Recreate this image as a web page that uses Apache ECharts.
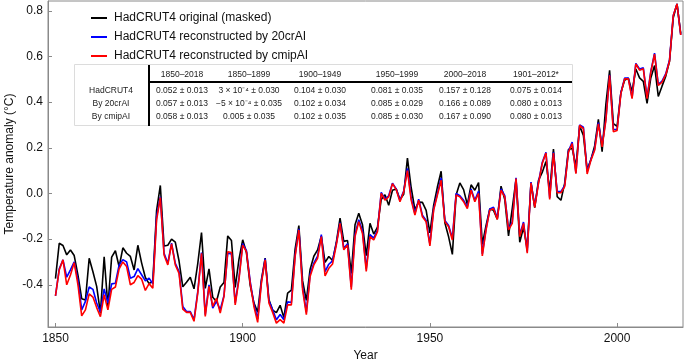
<!DOCTYPE html>
<html>
<head>
<meta charset="utf-8">
<script src="https://cdn.jsdelivr.net/npm/echarts/dist/echarts.min.js"></script>
<style>
  html, body { margin: 0; padding: 0; background: #fff; }
  #main { width: 685px; height: 360px; }
</style>
</head>
<body>
<div id="main"></div>
<script>
var startYear = 1850;

var hadcrut = [
  -0.373, -0.218, -0.228, -0.269, -0.248, -0.272, -0.358, -0.461, -0.467, -0.284,
  -0.343, -0.407, -0.524, -0.278, -0.494, -0.279, -0.251, -0.321, -0.238, -0.262,
  -0.276, -0.335, -0.227, -0.304, -0.368, -0.395, -0.384, -0.075, 0.035, -0.230,
  -0.227, -0.200, -0.213, -0.296, -0.409, -0.389, -0.367, -0.418, -0.307, -0.171,
  -0.416, -0.330, -0.455, -0.473, -0.410, -0.390, -0.186, -0.206, -0.412, -0.289,
  -0.203, -0.259, -0.402, -0.479, -0.520, -0.377, -0.283, -0.465, -0.511, -0.522,
  -0.490, -0.544, -0.437, -0.424, -0.244, -0.141, -0.383, -0.468, -0.333, -0.275,
  -0.247, -0.187, -0.302, -0.276, -0.294, -0.215, -0.108, -0.210, -0.206, -0.350,
  -0.137, -0.087, -0.137, -0.273, -0.131, -0.178, -0.147, -0.026, -0.006, -0.052,
  0.014, 0.020, -0.027, -0.004, 0.155, 0.025, -0.071, -0.038, -0.039, -0.074,
  -0.173, -0.052, 0.028, 0.097, -0.129, -0.190, -0.267, -0.007, 0.046, 0.017,
  -0.049, 0.038, 0.014, 0.048, -0.223, -0.140, -0.068, -0.074, -0.113, 0.032,
  -0.027, -0.186, -0.065, 0.062, -0.214, -0.149, -0.241, 0.047, -0.062, 0.057,
  0.092, 0.140, 0.011, 0.194, -0.014, -0.030, 0.045, 0.192, 0.198, 0.118,
  0.296, 0.254, 0.105, 0.148, 0.208, 0.325, 0.183, 0.390, 0.539, 0.306,
  0.294, 0.441, 0.496, 0.505, 0.447, 0.545, 0.506, 0.491, 0.395, 0.506,
  0.560, 0.425, 0.470, 0.514, 0.579, 0.770, 0.830, 0.700
];

var by20cr = [
  -0.449, -0.330, -0.291, -0.367, -0.335, -0.300, -0.380, -0.510, -0.473, -0.410,
  -0.420, -0.480, -0.520, -0.418, -0.480, -0.396, -0.393, -0.313, -0.290, -0.300,
  -0.371, -0.364, -0.329, -0.356, -0.383, -0.371, -0.396, -0.102, -0.015, -0.262,
  -0.306, -0.218, -0.306, -0.342, -0.495, -0.517, -0.517, -0.553, -0.430, -0.259,
  -0.531, -0.400, -0.502, -0.473, -0.509, -0.448, -0.262, -0.265, -0.480, -0.370,
  -0.220, -0.250, -0.385, -0.485, -0.550, -0.385, -0.285, -0.470, -0.510, -0.553,
  -0.530, -0.553, -0.475, -0.478, -0.270, -0.155, -0.410, -0.520, -0.355, -0.305,
  -0.275, -0.180, -0.342, -0.310, -0.295, -0.220, -0.128, -0.240, -0.220, -0.410,
  -0.180, -0.115, -0.165, -0.330, -0.180, -0.196, -0.160, 0.005, -0.025, -0.010,
  0.045, 0.020, -0.030, 0.010, 0.110, -0.020, -0.088, -0.025, -0.095, -0.118,
  -0.222, -0.068, 0.000, 0.068, -0.118, -0.140, -0.195, 0.000, -0.010, -0.030,
  -0.060, 0.020, -0.030, 0.010, -0.265, -0.155, -0.068, -0.060, -0.108, 0.020,
  -0.010, -0.155, -0.125, 0.068, -0.182, -0.125, -0.255, 0.050, -0.055, 0.048,
  0.135, 0.180, -0.020, 0.180, 0.008, 0.008, 0.035, 0.185, 0.225, 0.090,
  0.300, 0.290, 0.095, 0.150, 0.195, 0.310, 0.210, 0.325, 0.520, 0.280,
  0.280, 0.440, 0.505, 0.505, 0.420, 0.570, 0.545, 0.550, 0.420, 0.535,
  0.615, 0.478, 0.492, 0.525, 0.585, 0.780, 0.830, 0.695
];

var bycmip = [
  -0.449, -0.335, -0.291, -0.400, -0.357, -0.303, -0.400, -0.536, -0.510, -0.440,
  -0.454, -0.500, -0.540, -0.444, -0.510, -0.420, -0.410, -0.330, -0.300, -0.320,
  -0.400, -0.390, -0.360, -0.375, -0.425, -0.395, -0.415, -0.117, -0.018, -0.270,
  -0.313, -0.221, -0.313, -0.350, -0.507, -0.521, -0.521, -0.560, -0.437, -0.262,
  -0.539, -0.407, -0.495, -0.459, -0.524, -0.451, -0.255, -0.259, -0.488, -0.378,
  -0.226, -0.255, -0.393, -0.495, -0.565, -0.393, -0.291, -0.480, -0.521, -0.568,
  -0.553, -0.568, -0.488, -0.488, -0.277, -0.160, -0.422, -0.531, -0.364, -0.313,
  -0.284, -0.189, -0.361, -0.328, -0.309, -0.226, -0.131, -0.247, -0.226, -0.422,
  -0.189, -0.124, -0.175, -0.342, -0.189, -0.204, -0.167, 0.000, -0.029, -0.015,
  0.043, 0.017, -0.036, 0.007, 0.100, -0.029, -0.095, -0.030, -0.102, -0.124,
  -0.230, -0.073, -0.007, 0.058, -0.124, -0.146, -0.204, -0.007, -0.015, -0.036,
  -0.066, 0.014, -0.036, 0.000, -0.274, -0.160, -0.073, -0.066, -0.114, 0.014,
  -0.015, -0.160, -0.131, 0.065, -0.189, -0.131, -0.262, 0.046, -0.061, 0.043,
  0.131, 0.177, -0.026, 0.177, 0.003, 0.003, 0.030, 0.180, 0.218, 0.087,
  0.298, 0.284, 0.085, 0.145, 0.189, 0.305, 0.204, 0.320, 0.517, 0.270,
  0.276, 0.436, 0.502, 0.502, 0.415, 0.567, 0.540, 0.546, 0.415, 0.530,
  0.610, 0.473, 0.488, 0.520, 0.580, 0.780, 0.830, 0.694
];

var seriesNames = [
  'HadCRUT4 original (masked)',
  'HadCRUT4 reconstructed by 20crAI',
  'HadCRUT4 reconstructed by cmipAI'
];
var seriesColors = ['#000000', '#0000ff', '#ff0000'];

var yTicks = [-0.4, -0.2, 0.0, 0.2, 0.4, 0.6, 0.8];
var xTicks = [1850, 1900, 1950, 2000];
var yAxisTitle = 'Temperature anomaly (\u00b0C)';

// inset table text
var tableHeader = ['1850\u20132018', '1850\u20131899', '1900\u20131949', '1950\u20131999', '2000\u20132018', '1901\u20132012*'];
var tableRowLabels = ['HadCRUT4', 'By 20crAI', 'By cmipAI'];
var tableRows = [
  ['0.052 \u00b1 0.013', '3 \u00d7 10\u207b\u2074 \u00b1 0.030', '0.104 \u00b1 0.030', '0.081 \u00b1 0.035', '0.157 \u00b1 0.128', '0.075 \u00b1 0.014'],
  ['0.057 \u00b1 0.013', '\u22125 \u00d7 10\u207b\u2074 \u00b1 0.035', '0.102 \u00b1 0.034', '0.085 \u00b1 0.029', '0.166 \u00b1 0.089', '0.080 \u00b1 0.013'],
  ['0.058 \u00b1 0.013', '0.005 \u00b1 0.035', '0.102 \u00b1 0.035', '0.085 \u00b1 0.030', '0.167 \u00b1 0.090', '0.080 \u00b1 0.013']
];

function pairs(values) {
  var out = [];
  values.forEach(function (v, i) {
    out.push([startYear + i, v]);
  });
  return out;
}

var font = '"Liberation Sans", Arial, Helvetica, sans-serif';
var myChart = echarts.init(document.getElementById('main'), null, {renderer: 'canvas'});

// table layout
var colX = [182, 249, 320, 397, 465, 536];
var rowY = [90.5, 103.5, 116.5];
var tblFont = '8.5px ' + font;
var graphics = [
  {type: 'rect', shape: {x: 74.5, y: 64.5, width: 498, height: 61}, style: {fill: '#fff', stroke: '#dcdcdc', lineWidth: 1}, z: 100},
  {type: 'line', shape: {x1: 149, y1: 65, x2: 149, y2: 126}, style: {stroke: '#000', lineWidth: 2}, z: 101},
  {type: 'line', shape: {x1: 149, y1: 82, x2: 572, y2: 82}, style: {stroke: '#000', lineWidth: 2}, z: 101},
  // y axis title
  {type: 'text', x: 10, y: 164, rotation: Math.PI / 2, z: 50,
   style: {text: yAxisTitle, x: 0, y: 0, align: 'center', verticalAlign: 'middle', font: '12px ' + font, fill: '#111'}}
];
tableHeader.forEach(function (h, j) {
  graphics.push({type: 'text', z: 102, style: {text: h, x: colX[j], y: 75, align: 'center', verticalAlign: 'middle', font: tblFont, fill: '#222'}});
});
tableRowLabels.forEach(function (lab, i) {
  graphics.push({type: 'text', z: 102, style: {text: lab, x: 111, y: rowY[i], align: 'center', verticalAlign: 'middle', font: tblFont, fill: '#222'}});
  tableRows[i].forEach(function (cell, j) {
    graphics.push({type: 'text', z: 102, style: {text: cell, x: colX[j], y: rowY[i], align: 'center', verticalAlign: 'middle', font: tblFont, fill: '#222'}});
  });
});

var option = {
  animation: false,
  backgroundColor: '#fff',
  textStyle: {fontFamily: font},
  grid: {
    left: 48, right: 2, top: 1, bottom: 33,
    containLabel: false,
    outerBoundsMode: 'none',
    show: true, borderColor: '#8a8a8a', borderWidth: 1
  },
  legend: {
    orient: 'vertical',
    left: 86, top: 6,
    icon: 'rect',
    itemWidth: 16, itemHeight: 2,
    itemGap: 5,
    textStyle: {fontSize: 12, color: '#111', lineHeight: 14, padding: [0, 0, 0, 2]},
    data: seriesNames
  },
  xAxis: {
    type: 'value',
    min: 1848, max: 2017.6,
    name: 'Year', nameLocation: 'middle', nameGap: 21,
    nameTextStyle: {fontSize: 12, color: '#111'},
    splitLine: {show: false},
    axisLine: {onZero: false, lineStyle: {color: '#8a8a8a'}},
    axisTick: {inside: true, length: 4, customValues: xTicks, lineStyle: {color: '#8a8a8a'}},
    axisLabel: {customValues: xTicks, fontSize: 12, color: '#111', margin: 6, formatter: function (v) { return String(v); }}
  },
  yAxis: {
    type: 'value',
    min: -0.585, max: 0.843,
    splitLine: {show: false},
    axisLine: {show: true, onZero: false, lineStyle: {color: '#8a8a8a'}},
    axisTick: {show: true, inside: true, length: 4, customValues: yTicks, lineStyle: {color: '#8a8a8a'}},
    axisLabel: {customValues: yTicks, fontSize: 12, color: '#111', margin: 5, formatter: function (v) { return v.toFixed(1); }}
  },
  series: [],
  graphic: graphics
};

[hadcrut, by20cr, bycmip].forEach(function (vals, k) {
  option.series.push({
    name: seriesNames[k],
    type: 'line',
    data: pairs(vals),
    showSymbol: false,
    symbol: 'none',
    z: 2 + k,
    itemStyle: {color: seriesColors[k]},
    lineStyle: {color: seriesColors[k], width: 1.6}
  });
});

myChart.setOption(option);
</script>
</body>
</html>
